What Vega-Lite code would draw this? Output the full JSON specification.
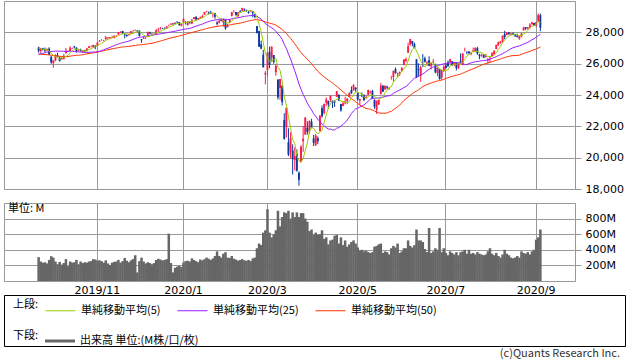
{
"$schema": "https://vega.github.io/schema/vega-lite/v6.json",
"padding": {"left": 3, "top": 0, "right": 0, "bottom": 0},
"autosize": {"type": "pad"},
"background": "white",
"bounds": "flush",
"spacing": 14,
"config": {
  "view": {"stroke": "#999999", "strokeWidth": 1},
  "axis": {"labelFont": "DejaVu Sans", "labelFontSize": 11, "labelColor": "#000000", "gridColor": "#999999", "gridOpacity": 1, "tickColor": "#999999", "domain": false, "labelFlush": false, "labelOverlap": false}
},
"datasets": {
"prices": [
{"date":"2019-09-24","open":27040,"high":27080,"low":26700,"close":26810,"volume":306,"ma5":26988,"ma25":26598,"ma50":26601},
{"date":"2019-09-25","open":26800,"high":27010,"low":26690,"close":26970,"volume":250,"ma5":26952,"ma25":26638,"ma50":26594},
{"date":"2019-09-26","open":26980,"high":27010,"low":26830,"close":26890,"volume":235,"ma5":26912,"ma25":26666,"ma50":26587},
{"date":"2019-09-27","open":26910,"high":27030,"low":26730,"close":26820,"volume":240,"ma5":26888,"ma25":26689,"ma50":26579},
{"date":"2019-09-30","open":26840,"high":26980,"low":26830,"close":26920,"volume":225,"ma5":26882,"ma25":26740,"ma50":26574},
{"date":"2019-10-01","open":26960,"high":27050,"low":26550,"close":26570,"volume":270,"ma5":26834,"ma25":26767,"ma50":26562},
{"date":"2019-10-02","open":26450,"high":26470,"low":25990,"close":26080,"volume":318,"ma5":26656,"ma25":26779,"ma50":26537},
{"date":"2019-10-03","open":26040,"high":26230,"low":25740,"close":26200,"volume":300,"ma5":26518,"ma25":26786,"ma50":26516},
{"date":"2019-10-04","open":26200,"high":26590,"low":26150,"close":26570,"volume":250,"ma5":26468,"ma25":26794,"ma50":26504},
{"date":"2019-10-07","open":26520,"high":26700,"low":26430,"close":26480,"volume":215,"ma5":26380,"ma25":26797,"ma50":26490},
{"date":"2019-10-08","open":26380,"high":26450,"low":26150,"close":26160,"volume":245,"ma5":26298,"ma25":26799,"ma50":26469},
{"date":"2019-10-09","open":26280,"high":26420,"low":26250,"close":26350,"volume":210,"ma5":26352,"ma25":26798,"ma50":26452},
{"date":"2019-10-10","open":26310,"high":26620,"low":26270,"close":26500,"volume":230,"ma5":26412,"ma25":26789,"ma50":26445},
{"date":"2019-10-11","open":26660,"high":27000,"low":26660,"close":26820,"volume":280,"ma5":26462,"ma25":26790,"ma50":26449},
{"date":"2019-10-14","open":26770,"high":26830,"low":26750,"close":26790,"volume":190,"ma5":26524,"ma25":26788,"ma50":26455},
{"date":"2019-10-15","open":26810,"high":27110,"low":26810,"close":27020,"volume":250,"ma5":26696,"ma25":26792,"ma50":26481},
{"date":"2019-10-16","open":26990,"high":27020,"low":26940,"close":27000,"volume":235,"ma5":26826,"ma25":26787,"ma50":26501},
{"date":"2019-10-17","open":27090,"high":27130,"low":26980,"close":27030,"volume":240,"ma5":26932,"ma25":26781,"ma50":26521},
{"date":"2019-10-18","open":27020,"high":27040,"low":26710,"close":26770,"volume":270,"ma5":26922,"ma25":26763,"ma50":26529},
{"date":"2019-10-21","open":26820,"high":26900,"low":26800,"close":26830,"volume":215,"ma5":26930,"ma25":26753,"ma50":26540},
{"date":"2019-10-22","open":26860,"high":26960,"low":26780,"close":26790,"volume":250,"ma5":26884,"ma25":26740,"ma50":26558},
{"date":"2019-10-23","open":26760,"high":26840,"low":26700,"close":26830,"volume":230,"ma5":26850,"ma25":26727,"ma50":26569},
{"date":"2019-10-24","open":26870,"high":26880,"low":26740,"close":26810,"volume":240,"ma5":26806,"ma25":26716,"ma50":26595},
{"date":"2019-10-25","open":26810,"high":27010,"low":26780,"close":26960,"volume":235,"ma5":26844,"ma25":26717,"ma50":26623},
{"date":"2019-10-28","open":27000,"high":27130,"low":26990,"close":27090,"volume":250,"ma5":26896,"ma25":26722,"ma50":26647},
{"date":"2019-10-29","open":27070,"high":27160,"low":27040,"close":27070,"volume":255,"ma5":26952,"ma25":26733,"ma50":26665},
{"date":"2019-10-30","open":27070,"high":27210,"low":26990,"close":27190,"volume":280,"ma5":27024,"ma25":26742,"ma50":26690},
{"date":"2019-10-31","open":27150,"high":27160,"low":26920,"close":27050,"volume":275,"ma5":27072,"ma25":26748,"ma50":26707},
{"date":"2019-11-01","open":27140,"high":27360,"low":27140,"close":27350,"volume":260,"ma5":27150,"ma25":26769,"ma50":26729},
{"date":"2019-11-04","open":27410,"high":27510,"low":27400,"close":27460,"volume":265,"ma5":27224,"ma25":26791,"ma50":26766},
{"date":"2019-11-05","open":27480,"high":27570,"low":27470,"close":27490,"volume":255,"ma5":27308,"ma25":26828,"ma50":26797},
{"date":"2019-11-06","open":27480,"high":27520,"low":27430,"close":27490,"volume":235,"ma5":27368,"ma25":26884,"ma50":26832},
{"date":"2019-11-07","open":27550,"high":27770,"low":27550,"close":27670,"volume":265,"ma5":27492,"ma25":26943,"ma50":26864},
{"date":"2019-11-08","open":27640,"high":27690,"low":27570,"close":27680,"volume":225,"ma5":27558,"ma25":26987,"ma50":26891},
{"date":"2019-11-11","open":27600,"high":27700,"low":27580,"close":27690,"volume":205,"ma5":27604,"ma25":27036,"ma50":26916},
{"date":"2019-11-12","open":27680,"high":27780,"low":27640,"close":27690,"volume":235,"ma5":27644,"ma25":27097,"ma50":26948},
{"date":"2019-11-13","open":27630,"high":27800,"low":27620,"close":27780,"volume":245,"ma5":27702,"ma25":27154,"ma50":26976},
{"date":"2019-11-14","open":27760,"high":27800,"low":27700,"close":27780,"volume":250,"ma5":27724,"ma25":27205,"ma50":26997},
{"date":"2019-11-15","open":27850,"high":28010,"low":27850,"close":28000,"volume":270,"ma5":27788,"ma25":27252,"ma50":27021},
{"date":"2019-11-18","open":28000,"high":28060,"low":27950,"close":28040,"volume":235,"ma5":27858,"ma25":27302,"ma50":27045},
{"date":"2019-11-19","open":28090,"high":28090,"low":27900,"close":27930,"volume":255,"ma5":27906,"ma25":27339,"ma50":27066},
{"date":"2019-11-20","open":27880,"high":27880,"low":27620,"close":27820,"volume":295,"ma5":27914,"ma25":27372,"ma50":27079},
{"date":"2019-11-21","open":27830,"high":27870,"low":27710,"close":27770,"volume":260,"ma5":27912,"ma25":27401,"ma50":27091},
{"date":"2019-11-22","open":27820,"high":27900,"low":27780,"close":27880,"volume":240,"ma5":27888,"ma25":27446,"ma50":27104},
{"date":"2019-11-25","open":27930,"high":28070,"low":27930,"close":28070,"volume":265,"ma5":27894,"ma25":27495,"ma50":27124},
{"date":"2019-11-26","open":28090,"high":28120,"low":28040,"close":28120,"volume":280,"ma5":27932,"ma25":27548,"ma50":27144},
{"date":"2019-11-27","open":28140,"high":28170,"low":28100,"close":28160,"volume":330,"ma5":28000,"ma25":27602,"ma50":27164},
{"date":"2019-11-29","open":28120,"high":28120,"low":28030,"close":28050,"volume":110,"ma5":28056,"ma25":27651,"ma50":27184},
{"date":"2019-12-02","open":28110,"high":28110,"low":27730,"close":27780,"volume":255,"ma5":28036,"ma25":27684,"ma50":27200},
{"date":"2019-12-03","open":27560,"high":27560,"low":27330,"close":27500,"volume":300,"ma5":27922,"ma25":27700,"ma50":27211},
{"date":"2019-12-04","open":27590,"high":27720,"low":27580,"close":27650,"volume":250,"ma5":27828,"ma25":27724,"ma50":27228},
{"date":"2019-12-05","open":27680,"high":27720,"low":27570,"close":27680,"volume":225,"ma5":27732,"ma25":27743,"ma50":27242},
{"date":"2019-12-06","open":27800,"high":28050,"low":27790,"close":28020,"volume":240,"ma5":27726,"ma25":27782,"ma50":27265},
{"date":"2019-12-09","open":27990,"high":28040,"low":27890,"close":27910,"volume":230,"ma5":27752,"ma25":27804,"ma50":27287},
{"date":"2019-12-10","open":27900,"high":27950,"low":27820,"close":27880,"volume":215,"ma5":27828,"ma25":27821,"ma50":27306},
{"date":"2019-12-11","open":27880,"high":27930,"low":27850,"close":27910,"volume":230,"ma5":27880,"ma25":27838,"ma50":27333},
{"date":"2019-12-12","open":27900,"high":28220,"low":27860,"close":28130,"volume":270,"ma5":27970,"ma25":27864,"ma50":27374},
{"date":"2019-12-13","open":28120,"high":28290,"low":28030,"close":28140,"volume":285,"ma5":27994,"ma25":27882,"ma50":27413},
{"date":"2019-12-16","open":28190,"high":28340,"low":28190,"close":28240,"volume":275,"ma5":28060,"ma25":27905,"ma50":27446},
{"date":"2019-12-17","open":28280,"high":28290,"low":28220,"close":28270,"volume":265,"ma5":28138,"ma25":27928,"ma50":27482},
{"date":"2019-12-18","open":28290,"high":28310,"low":28230,"close":28240,"volume":270,"ma5":28204,"ma25":27950,"ma50":27523},
{"date":"2019-12-19","open":28240,"high":28380,"low":28240,"close":28380,"volume":280,"ma5":28254,"ma25":27974,"ma50":27564},
{"date":"2019-12-20","open":28440,"high":28490,"low":28390,"close":28460,"volume":607,"ma5":28318,"ma25":28001,"ma50":27603},
{"date":"2019-12-23","open":28490,"high":28580,"low":28480,"close":28550,"volume":230,"ma5":28380,"ma25":28023,"ma50":27638},
{"date":"2019-12-24","open":28570,"high":28580,"low":28490,"close":28520,"volume":110,"ma5":28430,"ma25":28042,"ma50":27672},
{"date":"2019-12-26","open":28540,"high":28630,"low":28530,"close":28620,"volume":170,"ma5":28506,"ma25":28070,"ma50":27704},
{"date":"2019-12-27","open":28680,"high":28700,"low":28590,"close":28650,"volume":185,"ma5":28560,"ma25":28103,"ma50":27737},
{"date":"2019-12-30","open":28650,"high":28650,"low":28420,"close":28460,"volume":195,"ma5":28560,"ma25":28131,"ma50":27766},
{"date":"2019-12-31","open":28420,"high":28560,"low":28380,"close":28540,"volume":180,"ma5":28558,"ma25":28157,"ma50":27801},
{"date":"2020-01-02","open":28640,"high":28870,"low":28630,"close":28870,"volume":235,"ma5":28628,"ma25":28189,"ma50":27842},
{"date":"2020-01-03","open":28650,"high":28710,"low":28500,"close":28630,"volume":255,"ma5":28630,"ma25":28210,"ma50":27879},
{"date":"2020-01-06","open":28470,"high":28710,"low":28420,"close":28700,"volume":260,"ma5":28640,"ma25":28231,"ma50":27916},
{"date":"2020-01-07","open":28640,"high":28690,"low":28560,"close":28580,"volume":250,"ma5":28664,"ma25":28252,"ma50":27952},
{"date":"2020-01-08","open":28560,"high":28870,"low":28540,"close":28750,"volume":290,"ma5":28706,"ma25":28291,"ma50":27988},
{"date":"2020-01-09","open":28850,"high":28970,"low":28830,"close":28960,"volume":270,"ma5":28724,"ma25":28350,"ma50":28025},
{"date":"2020-01-10","open":29000,"high":29010,"low":28780,"close":28820,"volume":255,"ma5":28762,"ma25":28396,"ma50":28060},
{"date":"2020-01-13","open":28820,"high":28910,"low":28780,"close":28910,"volume":240,"ma5":28804,"ma25":28446,"ma50":28094},
{"date":"2020-01-14","open":28880,"high":29010,"low":28860,"close":28940,"volume":275,"ma5":28876,"ma25":28482,"ma50":28132},
{"date":"2020-01-15","open":28920,"high":29130,"low":28910,"close":29030,"volume":265,"ma5":28932,"ma25":28527,"ma50":28166},
{"date":"2020-01-16","open":29130,"high":29300,"low":29130,"close":29300,"volume":280,"ma5":29000,"ma25":28584,"ma50":28203},
{"date":"2020-01-17","open":29330,"high":29370,"low":29280,"close":29350,"volume":300,"ma5":29106,"ma25":28642,"ma50":28240},
{"date":"2020-01-21","open":29260,"high":29330,"low":29150,"close":29200,"volume":285,"ma5":29164,"ma25":28684,"ma50":28274},
{"date":"2020-01-22","open":29260,"high":29370,"low":29180,"close":29190,"volume":270,"ma5":29214,"ma25":28726,"ma50":28304},
{"date":"2020-01-23","open":29150,"high":29210,"low":28950,"close":29160,"volume":290,"ma5":29240,"ma25":28763,"ma50":28334},
{"date":"2020-01-24","open":29230,"high":29240,"low":28870,"close":28990,"volume":320,"ma5":29178,"ma25":28792,"ma50":28360},
{"date":"2020-01-27","open":28620,"high":28710,"low":28440,"close":28540,"volume":380,"ma5":29016,"ma25":28804,"ma50":28377},
{"date":"2020-01-28","open":28610,"high":28790,"low":28560,"close":28720,"volume":320,"ma5":28920,"ma25":28818,"ma50":28396},
{"date":"2020-01-29","open":28820,"high":28890,"low":28700,"close":28730,"volume":300,"ma5":28828,"ma25":28828,"ma50":28415},
{"date":"2020-01-30","open":28640,"high":28880,"low":28370,"close":28860,"volume":350,"ma5":28768,"ma25":28841,"ma50":28432},
{"date":"2020-01-31","open":28810,"high":28810,"low":28170,"close":28260,"volume":370,"ma5":28622,"ma25":28830,"ma50":28436},
{"date":"2020-02-03","open":28320,"high":28540,"low":28320,"close":28400,"volume":300,"ma5":28594,"ma25":28822,"ma50":28446},
{"date":"2020-02-04","open":28610,"high":28830,"low":28610,"close":28810,"volume":295,"ma5":28612,"ma25":28828,"ma50":28466},
{"date":"2020-02-05","open":29050,"high":29300,"low":29010,"close":29290,"volume":320,"ma5":28724,"ma25":28861,"ma50":28496},
{"date":"2020-02-06","open":29360,"high":29410,"low":29250,"close":29380,"volume":285,"ma5":28828,"ma25":28895,"ma50":28526},
{"date":"2020-02-07","open":29290,"high":29290,"low":29060,"close":29100,"volume":275,"ma5":28996,"ma25":28904,"ma50":28547},
{"date":"2020-02-10","open":29020,"high":29280,"low":29000,"close":29280,"volume":260,"ma5":29172,"ma25":28930,"ma50":28570},
{"date":"2020-02-11","open":29340,"high":29420,"low":29250,"close":29280,"volume":270,"ma5":29266,"ma25":28953,"ma50":28592},
{"date":"2020-02-12","open":29360,"high":29570,"low":29360,"close":29550,"volume":280,"ma5":29318,"ma25":28992,"ma50":28622},
{"date":"2020-02-13","open":29450,"high":29530,"low":29350,"close":29420,"volume":265,"ma5":29326,"ma25":29019,"ma50":28655},
{"date":"2020-02-14","open":29440,"high":29440,"low":29310,"close":29400,"volume":260,"ma5":29386,"ma25":29036,"ma50":28693},
{"date":"2020-02-18","open":29280,"high":29370,"low":29190,"close":29230,"volume":270,"ma5":29376,"ma25":29053,"ma50":28725},
{"date":"2020-02-19","open":29320,"high":29410,"low":29300,"close":29350,"volume":255,"ma5":29390,"ma25":29070,"ma50":28758},
{"date":"2020-02-20","open":29350,"high":29370,"low":28960,"close":29220,"volume":290,"ma5":29324,"ma25":29082,"ma50":28782},
{"date":"2020-02-21","open":29170,"high":29170,"low":28890,"close":28990,"volume":300,"ma5":29238,"ma25":29080,"ma50":28804},
{"date":"2020-02-24","open":28400,"high":28400,"low":27920,"close":27960,"volume":420,"ma5":28950,"ma25":29026,"ma50":28805},
{"date":"2020-02-25","open":28080,"high":28100,"low":27060,"close":27080,"volume":480,"ma5":28520,"ma25":28936,"ma50":28789},
{"date":"2020-02-26","open":27240,"high":27470,"low":26920,"close":26960,"volume":460,"ma5":28042,"ma25":28846,"ma50":28765},
{"date":"2020-02-27","open":26570,"high":26890,"low":25760,"close":25770,"volume":620,"ma5":27352,"ma25":28709,"ma50":28718},
{"date":"2020-02-28","open":25320,"high":25540,"low":24680,"close":25410,"volume":650,"ma5":26636,"ma25":28559,"ma50":28661},
{"date":"2020-03-02","open":25590,"high":26710,"low":25200,"close":26700,"volume":920,"ma5":26384,"ma25":28468,"ma50":28630},
{"date":"2020-03-03","open":26760,"high":27090,"low":25710,"close":25920,"volume":620,"ma5":26152,"ma25":28363,"ma50":28583},
{"date":"2020-03-04","open":26380,"high":27100,"low":26120,"close":27090,"volume":560,"ma5":26178,"ma25":28298,"ma50":28558},
{"date":"2020-03-05","open":26550,"high":26550,"low":25990,"close":26120,"volume":600,"ma5":26248,"ma25":28193,"ma50":28511},
{"date":"2020-03-06","open":25460,"high":25990,"low":25230,"close":25860,"volume":650,"ma5":26338,"ma25":28073,"ma50":28457},
{"date":"2020-03-09","open":24990,"high":24990,"low":23710,"close":23850,"volume":900,"ma5":25768,"ma25":27897,"ma50":28364},
{"date":"2020-03-10","open":24450,"high":25020,"low":23690,"close":25020,"volume":700,"ma5":25588,"ma25":27762,"ma50":28292},
{"date":"2020-03-11","open":24600,"high":24600,"low":23330,"close":23550,"volume":820,"ma5":24880,"ma25":27551,"ma50":28190},
{"date":"2020-03-12","open":22400,"high":22840,"low":21150,"close":21200,"volume":880,"ma5":23896,"ma25":27228,"ma50":28044},
{"date":"2020-03-13","open":21970,"high":23190,"low":21290,"close":23190,"volume":870,"ma5":23362,"ma25":26980,"ma50":27937},
{"date":"2020-03-16","open":20990,"high":21880,"low":20100,"close":20190,"volume":900,"ma5":22630,"ma25":26624,"ma50":27764},
{"date":"2020-03-17","open":20400,"high":21620,"low":19960,"close":21240,"volume":800,"ma5":21874,"ma25":26302,"ma50":27616},
{"date":"2020-03-18","open":20450,"high":20850,"low":18920,"close":19900,"volume":880,"ma5":21144,"ma25":25927,"ma50":27440},
{"date":"2020-03-19","open":19850,"high":20660,"low":19180,"close":20090,"volume":820,"ma5":20922,"ma25":25548,"ma50":27270},
{"date":"2020-03-20","open":20250,"high":20530,"low":19100,"close":19170,"volume":880,"ma5":20118,"ma25":25138,"ma50":27079},
{"date":"2020-03-23","open":19030,"high":19120,"low":18210,"close":18590,"volume":820,"ma5":19798,"ma25":24706,"ma50":26871},
{"date":"2020-03-24","open":19720,"high":20810,"low":19720,"close":20700,"volume":870,"ma5":19690,"ma25":24365,"ma50":26709},
{"date":"2020-03-25","open":21050,"high":22020,"low":20370,"close":21200,"volume":870,"ma5":19950,"ma25":24039,"ma50":26555},
{"date":"2020-03-26","open":21470,"high":22600,"low":21470,"close":22550,"volume":800,"ma5":20442,"ma25":23772,"ma50":26427},
{"date":"2020-03-27","open":21900,"high":22330,"low":21470,"close":21640,"volume":760,"ma5":20936,"ma25":23478,"ma50":26279},
{"date":"2020-03-30","open":21680,"high":22380,"low":21520,"close":22330,"volume":640,"ma5":21684,"ma25":23253,"ma50":26140},
{"date":"2020-03-31","open":22300,"high":22480,"low":21870,"close":21920,"volume":660,"ma5":21928,"ma25":23046,"ma50":25991},
{"date":"2020-04-01","open":21230,"high":21450,"low":20740,"close":20940,"volume":590,"ma5":21876,"ma25":22806,"ma50":25826},
{"date":"2020-04-02","open":20820,"high":21510,"low":20740,"close":21410,"volume":620,"ma5":21648,"ma25":22631,"ma50":25670},
{"date":"2020-04-03","open":21240,"high":21360,"low":20860,"close":21050,"volume":590,"ma5":21530,"ma25":22457,"ma50":25508},
{"date":"2020-04-06","open":21690,"high":22710,"low":21690,"close":22680,"volume":600,"ma5":21600,"ma25":22296,"ma50":25382},
{"date":"2020-04-07","open":23160,"high":23330,"low":22560,"close":22650,"volume":650,"ma5":21746,"ma25":22165,"ma50":25264},
{"date":"2020-04-08","open":22850,"high":23450,"low":22750,"close":23430,"volume":540,"ma5":22244,"ma25":22019,"ma50":25158},
{"date":"2020-04-09","open":23500,"high":23850,"low":23300,"close":23720,"volume":560,"ma5":22706,"ma25":21923,"ma50":25058},
{"date":"2020-04-13","open":23630,"high":23630,"low":23140,"close":23390,"volume":470,"ma5":23174,"ma25":21824,"ma50":24949},
{"date":"2020-04-14","open":23680,"high":23980,"low":23550,"close":23950,"volume":520,"ma5":23428,"ma25":21828,"ma50":24862},
{"date":"2020-04-15","open":23640,"high":23640,"low":23170,"close":23500,"volume":530,"ma5":23598,"ma25":21767,"ma50":24764},
{"date":"2020-04-16","open":23600,"high":23650,"low":23240,"close":23540,"volume":580,"ma5":23620,"ma25":21767,"ma50":24659},
{"date":"2020-04-17","open":23890,"high":24260,"low":23890,"close":24240,"volume":590,"ma5":23724,"ma25":21888,"ma50":24558},
{"date":"2020-04-20","open":24000,"high":24050,"low":23630,"close":23650,"volume":480,"ma5":23776,"ma25":21907,"ma50":24443},
{"date":"2020-04-21","open":23430,"high":23430,"low":22940,"close":23020,"volume":560,"ma5":23590,"ma25":22020,"ma50":24322},
{"date":"2020-04-22","open":23290,"high":23550,"low":23290,"close":23480,"volume":460,"ma5":23586,"ma25":22110,"ma50":24206},
{"date":"2020-04-23","open":23470,"high":23890,"low":23400,"close":23520,"volume":520,"ma5":23582,"ma25":22254,"ma50":24091},
{"date":"2020-04-24","open":23610,"high":23790,"low":23420,"close":23780,"volume":440,"ma5":23490,"ma25":22402,"ma50":23975},
{"date":"2020-04-27","open":23890,"high":24170,"low":23890,"close":24130,"volume":470,"ma5":23586,"ma25":22600,"ma50":23869},
{"date":"2020-04-28","open":24320,"high":24550,"low":24090,"close":24100,"volume":500,"ma5":23802,"ma25":22821,"ma50":23763},
{"date":"2020-04-29","open":24290,"high":24690,"low":24290,"close":24630,"volume":520,"ma5":24032,"ma25":22978,"ma50":23671},
{"date":"2020-04-30","open":24470,"high":24490,"low":24200,"close":24350,"volume":480,"ma5":24198,"ma25":23104,"ma50":23571},
{"date":"2020-05-01","open":24120,"high":24120,"low":23650,"close":23720,"volume":430,"ma5":24186,"ma25":23151,"ma50":23461},
{"date":"2020-05-04","open":23650,"high":23760,"low":23360,"close":23750,"volume":390,"ma5":24110,"ma25":23235,"ma50":23357},
{"date":"2020-05-05","open":23900,"high":24160,"low":23850,"close":23880,"volume":400,"ma5":24066,"ma25":23297,"ma50":23275},
{"date":"2020-05-06","open":23990,"high":24050,"low":23630,"close":23660,"volume":380,"ma5":23872,"ma25":23367,"ma50":23207},
{"date":"2020-05-07","open":23830,"high":23990,"low":23770,"close":23880,"volume":390,"ma5":23778,"ma25":23484,"ma50":23145},
{"date":"2020-05-08","open":24000,"high":24330,"low":23990,"close":24330,"volume":370,"ma5":23900,"ma25":23601,"ma50":23116},
{"date":"2020-05-11","open":24190,"high":24270,"low":24080,"close":24220,"volume":360,"ma5":23994,"ma25":23728,"ma50":23092},
{"date":"2020-05-12","open":24250,"high":24340,"low":23760,"close":23760,"volume":370,"ma5":23970,"ma25":23771,"ma50":23034},
{"date":"2020-05-13","open":23690,"high":23720,"low":23120,"close":23250,"volume":440,"ma5":23888,"ma25":23795,"ma50":22980},
{"date":"2020-05-14","open":23040,"high":23650,"low":22790,"close":23630,"volume":450,"ma5":23838,"ma25":23803,"ma50":22911},
{"date":"2020-05-15","open":23400,"high":23690,"low":23360,"close":23690,"volume":470,"ma5":23710,"ma25":23802,"ma50":22862},
{"date":"2020-05-18","open":24050,"high":24770,"low":24050,"close":24600,"volume":480,"ma5":23786,"ma25":23850,"ma50":22837},
{"date":"2020-05-19","open":24580,"high":24650,"low":24200,"close":24210,"volume":360,"ma5":23876,"ma25":23861,"ma50":22844},
{"date":"2020-05-20","open":24350,"high":24630,"low":24350,"close":24580,"volume":380,"ma5":24142,"ma25":23904,"ma50":22836},
{"date":"2020-05-21","open":24540,"high":24580,"low":24350,"close":24470,"volume":370,"ma5":24310,"ma25":23941,"ma50":22854},
{"date":"2020-05-22","open":24440,"high":24500,"low":24320,"close":24470,"volume":340,"ma5":24466,"ma25":23950,"ma50":22919},
{"date":"2020-05-26","open":25000,"high":25220,"low":24980,"close":25000,"volume":420,"ma5":24546,"ma25":24004,"ma50":22956},
{"date":"2020-05-27","open":25150,"high":25550,"low":24860,"close":25550,"volume":450,"ma5":24814,"ma25":24106,"ma50":23063},
{"date":"2020-05-28","open":25650,"high":25760,"low":25360,"close":25400,"volume":430,"ma5":24978,"ma25":24182,"ma50":23146},
{"date":"2020-05-29","open":25330,"high":25420,"low":25140,"close":25380,"volume":480,"ma5":25160,"ma25":24257,"ma50":23256},
{"date":"2020-06-01","open":25340,"high":25500,"low":25220,"close":25480,"volume":360,"ma5":25362,"ma25":24325,"ma50":23363},
{"date":"2020-06-02","open":25560,"high":25760,"low":25490,"close":25740,"volume":380,"ma5":25510,"ma25":24389,"ma50":23495},
{"date":"2020-06-03","open":25910,"high":26290,"low":25910,"close":26270,"volume":420,"ma5":25654,"ma25":24476,"ma50":23648},
{"date":"2020-06-04","open":26170,"high":26400,"low":26090,"close":26280,"volume":420,"ma5":25830,"ma25":24542,"ma50":23760},
{"date":"2020-06-05","open":26690,"high":27340,"low":26690,"close":27110,"volume":520,"ma5":26176,"ma25":24652,"ma50":23878},
{"date":"2020-06-08","open":27230,"high":27580,"low":27140,"close":27570,"volume":450,"ma5":26594,"ma25":24806,"ma50":23979},
{"date":"2020-06-09","open":27450,"high":27450,"low":27100,"close":27270,"volume":430,"ma5":26900,"ma25":24947,"ma50":24091},
{"date":"2020-06-10","open":27250,"high":27350,"low":26980,"close":26990,"volume":460,"ma5":27044,"ma25":25072,"ma50":24184},
{"date":"2020-06-11","open":26280,"high":26280,"low":25080,"close":25130,"volume":660,"ma5":26814,"ma25":25130,"ma50":24249},
{"date":"2020-06-12","open":25660,"high":26020,"low":25180,"close":25610,"volume":520,"ma5":26514,"ma25":25200,"ma50":24342},
{"date":"2020-06-15","open":25240,"high":25870,"low":24840,"close":25760,"volume":520,"ma5":26152,"ma25":25257,"ma50":24429},
{"date":"2020-06-16","open":26300,"high":26610,"low":25780,"close":26290,"volume":500,"ma5":25956,"ma25":25340,"ma50":24534},
{"date":"2020-06-17","open":26330,"high":26450,"low":26070,"close":26120,"volume":410,"ma5":25782,"ma25":25434,"ma50":24603},
{"date":"2020-06-18","open":26010,"high":26180,"low":25860,"close":26080,"volume":370,"ma5":25972,"ma25":25547,"ma50":24671},
{"date":"2020-06-19","open":26220,"high":26470,"low":25830,"close":25870,"volume":680,"ma5":26024,"ma25":25637,"ma50":24720},
{"date":"2020-06-22","open":25840,"high":26030,"low":25630,"close":26020,"volume":360,"ma5":26076,"ma25":25730,"ma50":24766},
{"date":"2020-06-23","open":26130,"high":26300,"low":26020,"close":26160,"volume":380,"ma5":26050,"ma25":25792,"ma50":24821},
{"date":"2020-06-24","open":25970,"high":26000,"low":25380,"close":25450,"volume":420,"ma5":25916,"ma25":25842,"ma50":24851},
{"date":"2020-06-25","open":25400,"high":25750,"low":25200,"close":25750,"volume":400,"ma5":25850,"ma25":25889,"ma50":24896},
{"date":"2020-06-26","open":25640,"high":25640,"low":24980,"close":25020,"volume":680,"ma5":25680,"ma25":25911,"ma50":24926},
{"date":"2020-06-29","open":25120,"high":25600,"low":24970,"close":25600,"volume":370,"ma5":25596,"ma25":25956,"ma50":24953},
{"date":"2020-06-30","open":25550,"high":25900,"low":25470,"close":25810,"volume":420,"ma5":25526,"ma25":25988,"ma50":24996},
{"date":"2020-07-01","open":25880,"high":26020,"low":25680,"close":25730,"volume":360,"ma5":25582,"ma25":25996,"ma50":25051},
{"date":"2020-07-02","open":26090,"high":26200,"low":25800,"close":25830,"volume":330,"ma5":25598,"ma25":26013,"ma50":25098},
{"date":"2020-07-06","open":26100,"high":26320,"low":26020,"close":26290,"volume":380,"ma5":25852,"ma25":26049,"ma50":25153},
{"date":"2020-07-07","open":26150,"high":26170,"low":25880,"close":25890,"volume":360,"ma5":25910,"ma25":26066,"ma50":25195},
{"date":"2020-07-08","open":25930,"high":26080,"low":25840,"close":26070,"volume":340,"ma5":25962,"ma25":26079,"ma50":25234},
{"date":"2020-07-09","open":26070,"high":26070,"low":25570,"close":25710,"volume":370,"ma5":25958,"ma25":26056,"ma50":25266},
{"date":"2020-07-10","open":25730,"high":26080,"low":25650,"close":26080,"volume":330,"ma5":26008,"ma25":26048,"ma50":25295},
{"date":"2020-07-13","open":26170,"high":26650,"low":26050,"close":26090,"volume":370,"ma5":25968,"ma25":26008,"ma50":25330},
{"date":"2020-07-14","open":25990,"high":26680,"low":25900,"close":26640,"volume":380,"ma5":26118,"ma25":25970,"ma50":25388},
{"date":"2020-07-15","open":26870,"high":27020,"low":26770,"close":26870,"volume":400,"ma5":26278,"ma25":25954,"ma50":25451},
{"date":"2020-07-16","open":26740,"high":26800,"low":26600,"close":26730,"volume":350,"ma5":26482,"ma25":25944,"ma50":25508},
{"date":"2020-07-17","open":26780,"high":26800,"low":26580,"close":26670,"volume":400,"ma5":26600,"ma25":26006,"ma50":25568},
{"date":"2020-07-20","open":26640,"high":26750,"low":26540,"close":26680,"volume":350,"ma5":26718,"ma25":26048,"ma50":25624},
{"date":"2020-07-21","open":26770,"high":27030,"low":26770,"close":26840,"volume":360,"ma5":26758,"ma25":26092,"ma50":25674},
{"date":"2020-07-22","open":26810,"high":27030,"low":26730,"close":27010,"volume":340,"ma5":26786,"ma25":26120,"ma50":25730},
{"date":"2020-07-23","open":26990,"high":27080,"low":26560,"close":26650,"volume":370,"ma5":26770,"ma25":26142,"ma50":25788},
{"date":"2020-07-24","open":26570,"high":26630,"low":26290,"close":26470,"volume":350,"ma5":26730,"ma25":26157,"ma50":25852},
{"date":"2020-07-27","open":26530,"high":26630,"low":26440,"close":26580,"volume":340,"ma5":26710,"ma25":26186,"ma50":25911},
{"date":"2020-07-28","open":26560,"high":26590,"low":26360,"close":26380,"volume":330,"ma5":26618,"ma25":26200,"ma50":25965},
{"date":"2020-07-29","open":26420,"high":26630,"low":26400,"close":26540,"volume":340,"ma5":26524,"ma25":26215,"ma50":26004},
{"date":"2020-07-30","open":26200,"high":26330,"low":26030,"close":26310,"volume":380,"ma5":26456,"ma25":26250,"ma50":26046},
{"date":"2020-07-31","open":26390,"high":26430,"low":26080,"close":26430,"volume":420,"ma5":26448,"ma25":26277,"ma50":26083},
{"date":"2020-08-03","open":26490,"high":26740,"low":26490,"close":26660,"volume":350,"ma5":26464,"ma25":26342,"ma50":26127},
{"date":"2020-08-04","open":26600,"high":26840,"low":26550,"close":26830,"volume":330,"ma5":26554,"ma25":26392,"ma50":26174},
{"date":"2020-08-05","open":26930,"high":27220,"low":26930,"close":27200,"volume":360,"ma5":26686,"ma25":26447,"ma50":26218},
{"date":"2020-08-06","open":27170,"high":27400,"low":27130,"close":27390,"volume":320,"ma5":26902,"ma25":26514,"ma50":26255},
{"date":"2020-08-07","open":27340,"high":27450,"low":27270,"close":27430,"volume":300,"ma5":27102,"ma25":26578,"ma50":26295},
{"date":"2020-08-10","open":27420,"high":27790,"low":27370,"close":27790,"volume":340,"ma5":27328,"ma25":26638,"ma50":26343},
{"date":"2020-08-11","open":27880,"high":28100,"low":27560,"close":27690,"volume":400,"ma5":27500,"ma25":26710,"ma50":26388},
{"date":"2020-08-12","open":27830,"high":28010,"low":27810,"close":27980,"volume":350,"ma5":27656,"ma25":26786,"ma50":26432},
{"date":"2020-08-13","open":27990,"high":28020,"low":27830,"close":27900,"volume":330,"ma5":27758,"ma25":26874,"ma50":26465},
{"date":"2020-08-14","open":27880,"high":27960,"low":27780,"close":27930,"volume":300,"ma5":27858,"ma25":26948,"ma50":26498},
{"date":"2020-08-17","open":27940,"high":27990,"low":27810,"close":27840,"volume":290,"ma5":27868,"ma25":27018,"ma50":26513},
{"date":"2020-08-18","open":27860,"high":27890,"low":27700,"close":27780,"volume":300,"ma5":27886,"ma25":27063,"ma50":26517},
{"date":"2020-08-19","open":27780,"high":27910,"low":27680,"close":27690,"volume":320,"ma5":27828,"ma25":27096,"ma50":26525},
{"date":"2020-08-20","open":27590,"high":27780,"low":27520,"close":27740,"volume":300,"ma5":27796,"ma25":27136,"ma50":26540},
{"date":"2020-08-21","open":27720,"high":27960,"low":27700,"close":27930,"volume":380,"ma5":27796,"ma25":27187,"ma50":26596},
{"date":"2020-08-24","open":28120,"high":28360,"low":28120,"close":28310,"volume":360,"ma5":27890,"ma25":27252,"ma50":26650},
{"date":"2020-08-25","open":28340,"high":28340,"low":28140,"close":28250,"volume":350,"ma5":27984,"ma25":27308,"ma50":26700},
{"date":"2020-08-26","open":28240,"high":28340,"low":28170,"close":28330,"volume":370,"ma5":28112,"ma25":27361,"ma50":26741},
{"date":"2020-08-27","open":28350,"high":28580,"low":28220,"close":28490,"volume":340,"ma5":28262,"ma25":27435,"ma50":26788},
{"date":"2020-08-28","open":28520,"high":28660,"low":28490,"close":28650,"volume":380,"ma5":28406,"ma25":27522,"ma50":26840},
{"date":"2020-08-31","open":28600,"high":28600,"low":28410,"close":28430,"volume":400,"ma5":28430,"ma25":27596,"ma50":26891},
{"date":"2020-09-01","open":28440,"high":28660,"low":28350,"close":28650,"volume":530,"ma5":28510,"ma25":27687,"ma50":26943},
{"date":"2020-09-02","open":28700,"high":29200,"low":28660,"close":29100,"volume":560,"ma5":28664,"ma25":27789,"ma50":27002},
{"date":"2020-09-03","open":29090,"high":29200,"low":28070,"close":28290,"volume":660,"ma5":28624,"ma25":27868,"ma50":27059}
]
},
"vconcat": [
  {
    "width": 571,
    "height": 188,
    "data": {"name": "prices"},
    "encoding": {
      "x": {"field": "date", "type": "ordinal",
        "scale": {"paddingInner": 0, "paddingOuter": 0,
          "domain": {"unionWith": ["2019-08-30","2019-09-03","2019-09-04","2019-09-05","2019-09-06","2019-09-09","2019-09-10","2019-09-11","2019-09-12","2019-09-13","2019-09-16","2019-09-17","2019-09-18","2019-09-19","2019-09-20","2019-09-23","2020-09-04","2020-09-08","2020-09-09","2020-09-10","2020-09-11","2020-09-14","2020-09-15","2020-09-16","2020-09-17","2020-09-18","2020-09-21","2020-09-22","2020-09-23","2020-09-24","2020-09-25","2020-09-28"]}},
        "axis": {"values": ["2019-11-01","2020-01-02","2020-03-02","2020-05-01","2020-07-01","2020-09-01"], "labels": false, "ticks": false, "domain": false, "grid": true, "title": null}}
    },
    "layer": [
      {"mark": {"type": "rule", "strokeWidth": 1},
       "encoding": {
         "y": {"field": "low", "type": "quantitative", "scale": {"domain": [18000, 30000], "nice": false, "zero": false},
               "axis": {"orient": "right", "values": [18000,20000,22000,24000,26000,28000], "tickCount": 7, "format": ",.0f", "labelOverlap": false, "labelBound": false, "tickSize": 6, "labelPadding": 4, "grid": true, "title": null}},
         "y2": {"field": "high"},
         "color": {"condition": {"test": "datum.close >= datum.open", "value": "#ff1a4a"}, "value": "#0a3a9e"}
       }},
      {"mark": {"type": "bar", "width": {"band": 0.9}},
       "encoding": {
         "y": {"field": "open", "type": "quantitative",
               "axis": {"orient": "right", "values": [18000,20000,22000,24000,26000,28000], "tickCount": 7, "format": ",.0f", "labelOverlap": false, "labelBound": false, "tickSize": 6, "labelPadding": 4, "grid": true, "title": null}},
         "y2": {"field": "close"},
         "color": {"condition": {"test": "datum.close >= datum.open", "value": "#ff1a4a"}, "value": "#0a3a9e"}
       }},
      {"mark": {"type": "line", "strokeWidth": 1},
       "encoding": {
         "y": {"field": "ma50", "type": "quantitative",
               "axis": {"orient": "right", "values": [18000,20000,22000,24000,26000,28000], "tickCount": 7, "format": ",.0f", "labelOverlap": false, "labelBound": false, "tickSize": 6, "labelPadding": 4, "grid": true, "title": null}},
         "stroke": {"datum": "単純移動平均(50)", "type": "nominal",
           "scale": {"domain": ["単純移動平均(5)", "単純移動平均(25)", "単純移動平均(50)"], "range": ["#99cc00", "#9a1cff", "#ff3300"]},
           "legend": {"orient": "none", "legendX": 9, "legendY": 294, "direction": "horizontal", "title": "上段:", "titleOrient": "left", "titlePadding": 6,
             "titleFont": "Noto Sans CJK JP", "titleFontSize": 11, "titleFontWeight": "normal", "titleColor": "#000000",
             "labelFont": "Noto Sans CJK JP", "labelFontSize": 11, "labelColor": "#000000", "labelOffset": 5, "columnPadding": 14,
             "symbolType": "stroke", "symbolSize": 900, "symbolStrokeWidth": 1, "padding": 0}}
       }},
      {"mark": {"type": "line", "strokeWidth": 1},
       "encoding": {
         "y": {"field": "ma25", "type": "quantitative",
               "axis": {"orient": "right", "values": [18000,20000,22000,24000,26000,28000], "tickCount": 7, "format": ",.0f", "labelOverlap": false, "labelBound": false, "tickSize": 6, "labelPadding": 4, "grid": true, "title": null}},
         "stroke": {"datum": "単純移動平均(25)", "type": "nominal"}
       }},
      {"mark": {"type": "line", "strokeWidth": 1},
       "encoding": {
         "y": {"field": "ma5", "type": "quantitative",
               "axis": {"orient": "right", "values": [18000,20000,22000,24000,26000,28000], "tickCount": 7, "format": ",.0f", "labelOverlap": false, "labelBound": false, "tickSize": 6, "labelPadding": 4, "grid": true, "title": null}},
         "stroke": {"datum": "単純移動平均(5)", "type": "nominal"}
       }}
    ]
  },
  {
    "width": 571,
    "height": 78,
    "data": {"name": "prices"},
    "title": {"text": "単位: M", "orient": "top", "anchor": "start", "offset": -3, "baseline": "top", "dx": 4, "dy": 8, "font": "Noto Sans CJK JP", "fontSize": 11, "fontWeight": "normal", "color": "#000000"},
    "mark": {"type": "bar", "width": {"band": 1.2}},
    "encoding": {
      "x": {"field": "date", "type": "ordinal",
        "scale": {"paddingInner": 0, "paddingOuter": 0,
          "domain": {"unionWith": ["2019-08-30","2019-09-03","2019-09-04","2019-09-05","2019-09-06","2019-09-09","2019-09-10","2019-09-11","2019-09-12","2019-09-13","2019-09-16","2019-09-17","2019-09-18","2019-09-19","2019-09-20","2019-09-23","2020-09-04","2020-09-08","2020-09-09","2020-09-10","2020-09-11","2020-09-14","2020-09-15","2020-09-16","2020-09-17","2020-09-18","2020-09-21","2020-09-22","2020-09-23","2020-09-24","2020-09-25","2020-09-28"]}},
        "axis": {"values": ["2019-11-01","2020-01-02","2020-03-02","2020-05-01","2020-07-01","2020-09-01"],
                 "labelExpr": "slice(datum.value, 0, 4) + '/' + toNumber(slice(datum.value, 5, 7))",
                 "labelAngle": 0, "ticks": false, "domain": false, "grid": true, "labelPadding": 3, "title": null}},
      "y": {"field": "volume", "type": "quantitative", "scale": {"domain": [0, 1000], "nice": false},
            "axis": {"orient": "right", "values": [200, 400, 600, 800], "labelExpr": "datum.value + 'M'", "tickSize": 6, "labelPadding": 4, "grid": true, "title": null}},
      "fill": {"datum": "出来高 単位:(M株/口/枚)", "type": "nominal",
        "scale": {"range": ["#666666"]},
        "legend": {"orient": "none", "legendX": 9, "legendY": 325, "title": "下段:", "titleOrient": "left", "titlePadding": 6,
          "titleFont": "Noto Sans CJK JP", "titleFontSize": 11, "titleFontWeight": "normal", "titleColor": "#000000",
          "labelFont": "Noto Sans CJK JP", "labelFontSize": 11, "labelColor": "#000000", "labelOffset": 5,
          "symbolType": "M-1,-0.1H1V0.1H-1Z", "symbolSize": 900, "symbolStrokeWidth": 0, "padding": 0}}
    }
  },
  {
    "width": 621,
    "height": 51,
    "view": {"stroke": "#000000", "strokeWidth": 1},
    "data": {"values": [{"note": ""}]},
    "title": {"text": "(c)Quants Research Inc.", "orient": "bottom", "anchor": "end", "offset": 2, "dx": -5, "font": "Noto Sans CJK JP", "fontSize": 11, "fontWeight": "normal", "color": "#333333"},
    "mark": {"type": "text"},
    "encoding": {"text": {"field": "note", "type": "nominal"}}
  }
]
}
